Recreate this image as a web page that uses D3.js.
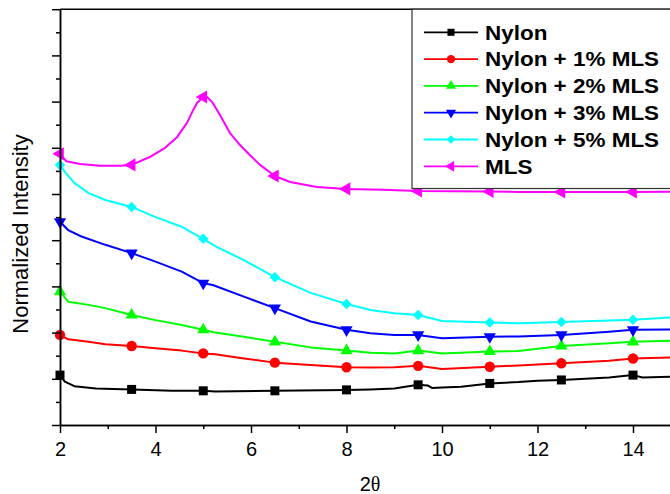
<!DOCTYPE html>
<html><head><meta charset="utf-8">
<script src="https://cdn.jsdelivr.net/npm/d3@7/dist/d3.min.js"></script>
<style>html,body{margin:0;padding:0;background:#fff;overflow:hidden}</style>
</head><body><svg id="c" width="670" height="494"></svg>
<script>
// ---- data ----
const seriesNames = ["Nylon", "Nylon + 1% MLS", "Nylon + 2% MLS", "Nylon + 3% MLS", "Nylon + 5% MLS", "MLS"];
const markerX = [2, 3.5, 5, 6.5, 8, 9.5, 11, 12.5, 14];
const xMajorTicks = [2, 4, 6, 8, 10, 12, 14];
const xMinorTicks = [3, 5, 7, 9, 11, 13, 15];
const yMajorTicks = [0, 1, 2, 3, 4, 5, 6, 7, 8, 9];
const yMinorTicks = [0.5, 1.5, 2.5, 3.5, 4.5, 5.5, 6.5, 7.5, 8.5];
const xLabel = "2";
const xLabelSym = "θ";
const yLabel = "Normalized Intensity";

const nylon = [[2,1.08],[2.1,0.94],[2.3,0.84],[2.75,0.79],[3.5,0.77],[4.35,0.74],[5,0.74],[5.25,0.725],[6.5,0.74],[8,0.76],[8.5,0.77],[9,0.79],[9.5,0.87],[9.7,0.855],[9.8,0.80],[10,0.81],[10.4,0.83],[11,0.90],[11.6,0.93],[12,0.96],[12.5,0.975],[13.5,1.03],[14,1.08],[14.2,1.03],[14.85,1.045]];
const nylon1 = [[2,1.95],[2.17,1.855],[2.6,1.80],[2.95,1.75],[3.5,1.71],[4,1.66],[4.55,1.61],[5,1.55],[5.25,1.53],[5.85,1.44],[6.5,1.35],[7.25,1.30],[8,1.25],[8.5,1.245],[9,1.25],[9.5,1.28],[10,1.21],[11,1.26],[11.6,1.29],[12.5,1.335],[13.5,1.39],[14,1.44],[14.85,1.465]];
const nylon2 = [[2,2.885],[2.17,2.67],[2.6,2.60],[2.95,2.53],[3.5,2.38],[4,2.27],[4.55,2.165],[5,2.06],[5.25,2.00],[5.85,1.91],[6.5,1.80],[7.25,1.68],[8,1.61],[8.5,1.565],[9,1.55],[9.5,1.61],[10,1.55],[11,1.59],[11.6,1.60],[12.5,1.71],[13.5,1.77],[14,1.80],[14.85,1.825]];
const nylon3 = [[2,4.40],[2.17,4.22],[2.45,4.08],[2.95,3.90],[3.5,3.72],[4,3.535],[4.55,3.32],[5,3.07],[5.2,3.03],[5.85,2.78],[6.5,2.53],[7.25,2.24],[8,2.06],[8.5,1.985],[9,1.95],[9.5,1.95],[10,1.88],[11,1.91],[11.6,1.915],[12.5,1.95],[13.5,2.02],[14,2.06],[14.85,2.07]];
const nylon5 = [[2,5.63],[2.1,5.48],[2.3,5.24],[2.6,5.02],[2.95,4.87],[3.5,4.72],[4,4.50],[4.55,4.29],[5,4.03],[5.25,3.87],[5.85,3.57],[6.5,3.20],[7.25,2.86],[8,2.62],[8.5,2.49],[9,2.42],[9.5,2.38],[10,2.25],[11,2.22],[11.6,2.20],[12.5,2.23],[13.5,2.26],[14,2.28],[14.85,2.33]];
const mls = [[2,5.87],[2.13,5.71],[2.42,5.65],[2.84,5.61],[3.26,5.61],[3.5,5.63],[3.88,5.80],[4.2,6.00],[4.45,6.23],[4.66,6.54],[4.79,6.82],[4.87,6.97],[5,7.10],[5.08,7.10],[5.18,7.00],[5.35,6.71],[5.56,6.32],[5.77,6.06],[5.98,5.84],[6.19,5.63],[6.5,5.39],[6.82,5.26],[7.38,5.15],[8,5.11],[8.76,5.09],[9.5,5.065],[11,5.055],[11.63,5.045],[12.5,5.045],[13.31,5.045],[14,5.045],[14.85,5.05]];

const seriesData = [nylon, nylon1, nylon2, nylon3, nylon5, mls];

// ---- styles ----
const colors = ["#000000", "#ff0000", "#00ff00", "#0000ff", "#00ffff", "#ff00ff"];
const shapes = [
  {type: d3.symbolSquare, size: 81, rot: 0, lsize: 50},
  {type: d3.symbolCircle, size: 85, rot: 0, lsize: 55},
  {type: d3.symbolTriangle, size: 65, rot: 0, lsize: 45},
  {type: d3.symbolTriangle, size: 65, rot: 180, lsize: 45},
  {type: d3.symbolSquare, size: 55, rot: 45, lsize: 38},
  {type: d3.symbolTriangle, size: 75, rot: -90, lsize: 50}
];
const FONT = "'Liberation Sans', Arial, Helvetica, sans-serif";

const svg = d3.select("#c");
const L = 60, T = 9.2, B = 425;
const x = d3.scaleLinear().domain([2, 15]).range([L, L + 13 * 47.75]);
const y = d3.scaleLinear().domain([0, 9]).range([B, T]);

// curves
const line = d3.line().x(d => x(d[0])).y(d => y(d[1]));
const g = svg.append("g");
seriesData.forEach((data, i) => {
  g.append("path").datum(data).attr("d", line)
    .attr("fill", "none").attr("stroke", colors[i]).attr("stroke-width", 2)
    .attr("stroke-linejoin", "round");
  const sym = d3.symbol().type(shapes[i].type).size(shapes[i].size);
  g.selectAll(null).data(data.filter(d => markerX.some(m => Math.abs(m - d[0]) < 1e-6)))
    .enter().append("path").attr("d", sym)
    .attr("transform", d => `translate(${x(d[0])},${y(d[1])}) rotate(${shapes[i].rot})`)
    .attr("fill", colors[i]);
});

// axes
function styleAxis(sel) {
  sel.selectAll("path.domain").attr("stroke", "#000").attr("stroke-width", 1.5);
  sel.selectAll(".tick line").attr("stroke", "#000").attr("stroke-width", 1.5);
  sel.selectAll("text").attr("font-family", FONT).attr("font-size", 20).attr("fill", "#000");
}
const xAx = svg.append("g").attr("transform", `translate(0,${B})`)
  .call(d3.axisBottom(x).tickValues(xMajorTicks).tickSize(8).tickSizeOuter(0).tickPadding(9).tickFormat(d3.format("d")));
styleAxis(xAx);
const xAxm = svg.append("g").attr("transform", `translate(0,${B})`)
  .call(d3.axisBottom(x).tickValues(xMinorTicks).tickSize(4).tickSizeOuter(0).tickFormat(""));
styleAxis(xAxm);
const yAx = svg.append("g").attr("transform", `translate(${L},0)`)
  .call(d3.axisLeft(y).tickValues(yMajorTicks).tickSize(8).tickSizeOuter(0).tickFormat(""));
styleAxis(yAx);
const yAxm = svg.append("g").attr("transform", `translate(${L},0)`)
  .call(d3.axisLeft(y).tickValues(yMinorTicks).tickSize(4).tickSizeOuter(0).tickFormat(""));
styleAxis(yAxm);
// top frame
svg.append("line").attr("x1", L).attr("x2", x(15)).attr("y1", T).attr("y2", T)
  .attr("stroke", "#000").attr("stroke-width", 1.5);

// axis labels
svg.append("text").attr("transform", `translate(28,234) rotate(-90)`)
  .attr("text-anchor", "middle").attr("font-family", FONT).attr("font-size", 22)
  .text(yLabel);
const xl = svg.append("text").attr("x", 370).attr("y", 491)
  .attr("text-anchor", "middle").attr("font-family", FONT).attr("font-size", 20);
xl.append("tspan").text(xLabel);
xl.append("tspan").attr("font-family", "'Liberation Serif', 'DejaVu Serif', serif").text(xLabelSym);

// legend
const lg = svg.append("g");
lg.append("rect").attr("x", 412).attr("y", T).attr("width", 300).attr("height", 188.5 - T)
  .attr("fill", "#fff").attr("stroke", "#333").attr("stroke-width", 1.2);
seriesNames.forEach((name, i) => {
  const cy = 32.3 + i * 26.8;
  lg.append("line").attr("x1", 424).attr("x2", 478).attr("y1", cy).attr("y2", cy)
    .attr("stroke", colors[i]).attr("stroke-width", 1.8);
  lg.append("path").attr("d", d3.symbol().type(shapes[i].type).size(shapes[i].lsize))
    .attr("transform", `translate(451,${cy}) rotate(${shapes[i].rot})`).attr("fill", colors[i]);
  lg.append("text").attr("transform", `translate(485,${cy + 7.2}) scale(1.07,1)`)
    .attr("font-family", FONT).attr("font-weight", "bold").attr("font-size", 21)
    .text(name);
});
</script></body></html>
